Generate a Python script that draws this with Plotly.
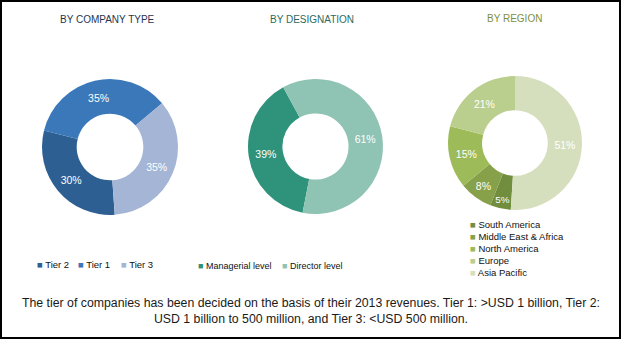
import plotly.graph_objects as go

W, H = 622, 340

# ---- data ----
company_labels = ["Tier 2", "Tier 1", "Tier 3"]
company_values = [30, 35, 35]
company_colors = ["#2D5F93", "#3A78BA", "#A4B5D6"]

designation_labels = ["Managerial level", "Director level"]
designation_values = [39, 61]
designation_colors = ["#2E937A", "#8FC3B3"]

region_labels = ["South America", "Middle East & Africa", "North America", "Europe", "Asia Pacific"]
region_values = [5, 8, 15, 21, 51]
region_colors = ["#718D3E", "#86A14A", "#9DBB58", "#BACE8E", "#D5DFBD"]

titles = ["BY COMPANY TYPE", "BY DESIGNATION", "BY REGION"]
title_colors = ["#1F3550", "#2C6A60", "#7E8F3E"]
footnote = ("The tier of companies has been decided on the basis of their 2013 revenues. Tier 1: >USD 1 billion, Tier 2:"
            "<br>USD 1 billion to 500 million, and Tier 3: <USD 500 million.")

SANS = "Liberation Sans, Arial, sans-serif"


def px_domain(cx, cy, r):
    return dict(x=[(cx - r) / W, (cx + r) / W], y=[1 - (cy + r) / H, 1 - (cy - r) / H])


def px(x, y):
    return x / W, 1 - y / H


fig = go.Figure()

pies = [
    (company_labels, company_values, company_colors, (110, 147, 68), 176),
    (designation_labels, designation_values, designation_colors, (315.5, 146.5, 67.5), 191),
    (region_labels, region_values, region_colors, (515, 143, 67), 183.6),
]
for labels, values, colors, (cx, cy, r), rot in pies:
    fig.add_trace(go.Pie(
        labels=labels, values=values, sort=False, direction="clockwise", rotation=rot,
        hole=0.49, domain=px_domain(cx, cy, r),
        marker=dict(colors=colors, line=dict(width=0)),
        texttemplate="%{value}%", textposition="inside", insidetextorientation="horizontal",
        textfont=dict(color="white", size=10.5, family=SANS),
        showlegend=False,
    ))

annotations = []
# titles
for t, c, (x, y) in zip(titles, title_colors, [(107, 19), (312, 19), (514, 18)]):
    xx, yy = px(x, y)
    annotations.append(dict(text=t, x=xx, y=yy, xref="paper", yref="paper", showarrow=False,
                            xanchor="center", yanchor="middle",
                            font=dict(size=10, color=c, family=SANS)))


def legend_item(label, color, x, y, size=9.5):
    xx, yy = px(x, y)
    return dict(text=f'<span style="color:{color}">■</span> {label}', x=xx, y=yy,
                xref="paper", yref="paper", showarrow=False, xanchor="left", yanchor="middle",
                font=dict(size=size, color="#111111", family=SANS))


# legend 1 (horizontal)
for lab, col, x in zip(company_labels, company_colors, [35, 76, 119]):
    annotations.append(legend_item(lab, col, x, 264))
# legend 2 (horizontal)
for lab, col, x in zip(designation_labels, designation_colors, [196, 280]):
    annotations.append(legend_item(lab, col, x, 266, 9))
# legend 3 (vertical)
for i, (lab, col) in enumerate(zip(region_labels, region_colors)):
    annotations.append(legend_item(lab, col, 468, 224 + i * 12))

# footnote
fx, fy = px(311, 311)
annotations.append(dict(text=footnote, x=fx, y=fy, xref="paper", yref="paper", showarrow=False,
                        xanchor="center", yanchor="middle", align="center",
                        font=dict(size=12.3, color="#1a1a1a", family=SANS)))

fig.update_layout(
    width=W, height=H, margin=dict(l=0, r=0, t=0, b=0),
    paper_bgcolor="white", plot_bgcolor="white",
    annotations=annotations,
    shapes=[dict(type="rect", xref="paper", yref="paper", x0=1 / W, x1=1 - 2 / W, y0=2 / H, y1=1 - 1 / H,
                 line=dict(color="black", width=2))],
)

fig.write_html("out.html")
